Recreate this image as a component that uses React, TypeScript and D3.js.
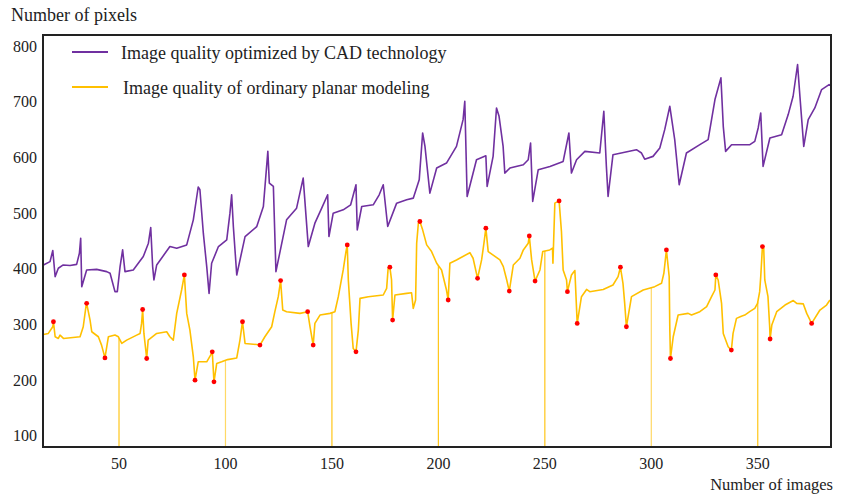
import React from 'react';
import * as d3 from 'd3';

const W = 847;
const H = 495;
const M = { left: 43, right: 831, top: 35, bottom: 447 };

const xTicks = [50, 100, 150, 200, 250, 300, 350];
const yTicks = [100, 200, 300, 400, 500, 600, 700, 800];

const seriesNames = ['Image quality optimized by CAD technology', 'Image quality of ordinary planar modeling'];
const seriesColors = ['#7030a0', '#ffc000'];

// [image number, pixels]
const cadSeries: [number, number][] = [
  [14.5, 407], [17.6, 413], [18.9, 433], [20, 386], [21.5, 401], [23.8, 407], [27, 406], [30.1, 408], [31.4, 428], [32, 455],
  [32.5, 368], [34.8, 398], [39.5, 399], [44.2, 395], [45.8, 392], [48.1, 359], [49.2, 359], [50.5, 404], [51.7, 434], [52.8, 395],
  [56.7, 398], [61.4, 422], [63.8, 446], [64.9, 474], [65.8, 404], [66.4, 380], [67.7, 407], [73.9, 440], [77.1, 437], [81.8, 443],
  [84.9, 488], [87.2, 547], [88, 542], [89.6, 464], [91.2, 404], [92.3, 356], [93.5, 410], [96.7, 440], [100.6, 452], [102.1, 500],
  [102.9, 533], [103.7, 476], [105.3, 389], [109.2, 458], [114.7, 476], [117.8, 512], [119.9, 611], [120.6, 554], [122.5, 548], [123.7, 395],
  [128.7, 488], [133.4, 509], [136.5, 563], [138.9, 440], [142, 482], [145.2, 509], [148, 533], [148.6, 458], [150.6, 500], [155.3, 506],
  [158.8, 515], [161.3, 551], [161.9, 470], [164, 512], [169.4, 515], [172.2, 533], [174.1, 551], [176.2, 476], [180.4, 518], [185.1, 524],
  [188.2, 527], [191, 560], [192.6, 644], [193.7, 620], [196, 536], [199.2, 581], [203.8, 590], [208.5, 620], [211.6, 668], [212.4, 701],
  [213.5, 530], [217.9, 596], [222.3, 603], [222.9, 548], [225.7, 602], [227.3, 689], [228.5, 674], [230.4, 620], [231.2, 572], [233.6, 581],
  [239.9, 587], [242.2, 596], [243.3, 626], [244.3, 521], [246.9, 578], [252.4, 584], [258.6, 593], [261.3, 644], [262.5, 572], [264.9, 596],
  [268.8, 611], [275.8, 608], [277.7, 683], [278.9, 584], [279.7, 530], [282, 605], [293, 614], [295.4, 608], [296.9, 597], [300.8, 602],
  [304, 617], [306.3, 650], [308.7, 692], [311, 632], [313.1, 551], [316.5, 608], [322.8, 623], [326.7, 632], [328.3, 668], [329.9, 704],
  [332.7, 743], [333.8, 656], [334.9, 611], [337.7, 623], [346.3, 623], [348.6, 629], [350.2, 653], [351.4, 680], [352.5, 584], [355.7, 635],
  [361.2, 641], [364.3, 677], [366.6, 710], [368.7, 767], [369.8, 710], [371.6, 620], [373.7, 668], [376.8, 689], [380, 722], [383.5, 731],
  [384.3, 729],
];

const planarSeries: [number, number][] = [
  [14.5, 282], [16.8, 284], [18.9, 296], [19.2, 305], [20, 278], [21.5, 275], [22.3, 281], [23.9, 275], [31.7, 278], [33.2, 296],
  [34.5, 333], [34.8, 338], [36.4, 308], [37.2, 287], [40.3, 278], [41.8, 263], [43.4, 240], [45, 278], [48.1, 281], [49.7, 278],
  [51.3, 266], [53.6, 272], [58.3, 281], [59.9, 284], [60.6, 302], [61.1, 327], [61.7, 284], [63, 239], [63.7, 272], [67.7, 284],
  [72.4, 287], [73.9, 278], [75.5, 272], [77.1, 320], [79.4, 362], [80.7, 389], [81.8, 320], [83.3, 290], [84.9, 242], [85.7, 200],
  [87.2, 233], [91.2, 233], [93.5, 248], [93.8, 251], [94.6, 197], [95.9, 230], [98.2, 233], [101, 237], [105.3, 240], [106.8, 272],
  [108, 305], [109.2, 266], [114.7, 264], [116.2, 263], [118.5, 278], [121.7, 296], [123.2, 323], [124.8, 350], [125.9, 379], [126.9, 326],
  [128.7, 323], [135, 320], [138.6, 323], [139.7, 296], [141.2, 263], [142, 302], [144.4, 317], [149.1, 320], [151.4, 323], [153, 350],
  [155.3, 398], [156.6, 431], [157.2, 443], [157.7, 380], [159, 302], [160, 257], [161.3, 251], [162.4, 290], [163.2, 347], [167.1, 350],
  [174.1, 353], [175.7, 365], [176.4, 401], [177.2, 403], [178, 380], [178.5, 308], [179.6, 353], [185.1, 356], [187.4, 357], [188.2, 329],
  [189.3, 344], [189.8, 446], [190.6, 482], [191.3, 485], [192.6, 470], [194.5, 443], [196.8, 431], [199.2, 410], [201.5, 398], [203.8, 362],
  [204.6, 344], [205.4, 410], [208.5, 416], [214.8, 429], [216.3, 419], [218.4, 383], [220.3, 416], [221.4, 446], [222.3, 473], [223.4, 431],
  [228.9, 416], [230.5, 404], [232.1, 380], [233.3, 360], [235.2, 407], [238.3, 419], [239.9, 434], [242.2, 446], [242.7, 459], [243.8, 416],
  [245.4, 378], [247.7, 398], [249, 431], [252.3, 434], [253.6, 437], [253.8, 410], [254.7, 518], [256.7, 522], [257.8, 467], [258.6, 398],
  [260.2, 380], [260.6, 359], [262.5, 389], [264.1, 397], [265.2, 302], [267.2, 350], [269.6, 363], [271.1, 359], [277.4, 363], [282, 371],
  [284.4, 386], [285.5, 403], [286.7, 374], [287.5, 338], [288.3, 296], [290.7, 350], [296.2, 362], [301.6, 368], [304.8, 374], [305.9, 392],
  [307.1, 434], [308.4, 386], [308.7, 290], [309, 239], [310.3, 278], [312.6, 317], [317.3, 320], [318.9, 317], [322.8, 323], [326, 332],
  [328.3, 350], [329.9, 362], [330.3, 389], [331.4, 380], [333, 338], [333.8, 284], [336.1, 260], [337.6, 254], [338.4, 284], [340, 311],
  [342.3, 315], [343.9, 317], [346.2, 323], [348.6, 329], [349.9, 338], [350.9, 359], [351.4, 386], [352.2, 440], [352.8, 437], [353.3, 380],
  [354.8, 350], [355.6, 296], [355.8, 274], [356.6, 299], [358.9, 323], [362.8, 335], [366.7, 343], [368.3, 338], [371.4, 337], [373, 320],
  [375.3, 302], [379.2, 326], [382.3, 335], [383.9, 344],
];

// extrema marked with red dots (image numbers)
const planarMarks = [
  19.2, 34.8, 43.4, 61.1, 63, 80.7, 85.7, 93.8, 94.6, 108, 116.2, 125.9, 138.6, 141.2, 157.2, 161.3, 177.2, 178.5, 191.3,
  204.6, 218.4, 222.3, 233.3, 242.7, 245.4, 256.7, 260.6, 265.2, 285.5, 288.3, 307.1, 309, 330.3, 337.6, 352.2, 355.8, 375.3,
];

// images where the planar curve drops to zero
const planarDrops = [50, 100, 150, 200, 250, 300, 350];

const FONT = "'Liberation Serif', 'Times New Roman', serif";

export default function App() {
  const x = d3.scaleLinear().domain([14.3, 384.4]).range([M.left, M.right]);
  const y = d3.scaleLinear().domain([80, 820]).range([M.bottom, M.top]);

  const line = d3
    .line<[number, number]>()
    .x((d) => x(d[0]))
    .y((d) => y(d[1]));

  const bis = d3.bisector((d: [number, number]) => d[0]).left;
  const valueAt = (data: [number, number][], xv: number) => {
    const i = Math.max(1, Math.min(data.length - 1, bis(data, xv)));
    const a = data[i - 1];
    const b = data[i];
    const t = (xv - a[0]) / (b[0] - a[0]);
    return a[1] + (b[1] - a[1]) * t;
  };

  const marks = planarMarks.map((mx) => planarSeries.find((d) => d[0] === mx)!).filter(Boolean);

  return (
    <svg
      width={W}
      height={H}
      style={{ position: 'absolute', left: 0, top: 0, background: '#fff' }}
      fontFamily={FONT}
    >
      <defs>
        <clipPath id="plot">
          <rect x={M.left} y={M.top} width={M.right - M.left} height={M.bottom - M.top} />
        </clipPath>
      </defs>

      <g clipPath="url(#plot)">
        {planarDrops.map((d) => (
          <line
            key={d}
            x1={x(d)}
            x2={x(d)}
            y1={y(valueAt(planarSeries, d))}
            y2={M.bottom}
            stroke={seriesColors[1]}
            strokeWidth={1.2}
            opacity={d === 100 || d === 300 ? 0.6 : 0.9}
          />
        ))}
        <path d={line(planarSeries) || ''} fill="none" stroke={seriesColors[1]} strokeWidth={1.6} strokeLinejoin="round" />
        <path d={line(cadSeries) || ''} fill="none" stroke={seriesColors[0]} strokeWidth={1.6} strokeLinejoin="round" />
        {marks.map((d, i) => (
          <circle key={i} cx={x(d[0])} cy={y(d[1])} r={2.4} fill="#ff0000" />
        ))}
      </g>

      <rect
        x={M.left}
        y={M.top}
        width={M.right - M.left}
        height={M.bottom - M.top}
        fill="none"
        stroke="#222"
        strokeWidth={2}
      />

      {yTicks.map((t) => (
        <text key={t} x={37} y={y(t)} dy="0.35em" textAnchor="end" fontSize={16} fill="#222">
          {t}
        </text>
      ))}
      {xTicks.map((t) => (
        <text key={t} x={x(t)} y={469} textAnchor="middle" fontSize={16} fill="#222">
          {t}
        </text>
      ))}

      <text x={11} y={21} fontSize={18} fill="#222">
        Number of pixels
      </text>
      <text x={833} y={490} textAnchor="end" fontSize={16.5} fill="#222">
        Number of images
      </text>

      {seriesNames.map((name, i) => (
        <g key={name} transform={`translate(0, ${i * 35})`}>
          <line x1={72} x2={108} y1={52} y2={52} stroke={seriesColors[i]} strokeWidth={2} />
          <text x={121 + i * 2} y={59} fontSize={18} fill="#222">
            {name}
          </text>
        </g>
      ))}
    </svg>
  );
}
